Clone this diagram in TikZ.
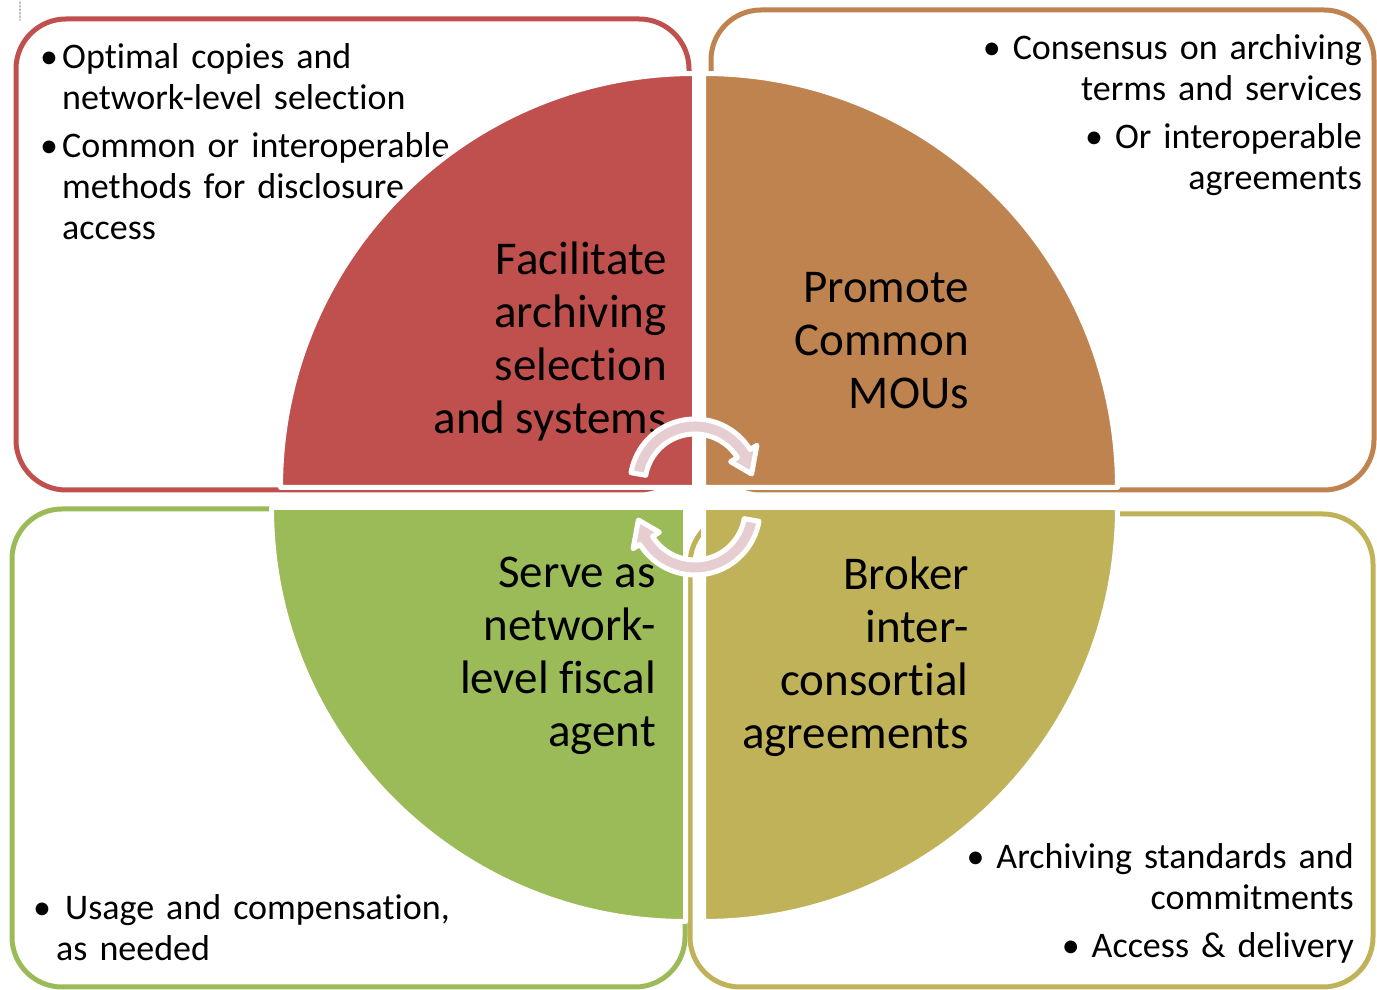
\documentclass[tikz,border=0pt]{standalone}
\usepackage{fontspec}
\setmainfont{Carlito}[Ligatures=NoCommon]
\usetikzlibrary{positioning}
\definecolor{redq}{HTML}{C0504D}
\definecolor{brownq}{HTML}{BF8350}
\definecolor{greenq}{HTML}{9BBB59}
\definecolor{oliveq}{HTML}{BFB259}
\definecolor{cycpink}{RGB}{230,205,209}
\newcommand{\bitem}[1][22pt]{\leavevmode\hangindent=#1\hangafter=1\makebox[22pt][l]{\textbullet}}

\begin{document}
\begin{tikzpicture}[x=1pt,y=1pt,line cap=round,line join=round,
box/.style={line width=5pt,rounded corners=50pt},
wedge/.style={draw=white,line width=5pt},
cyc/.style={fill=cycpink,draw=white,line width=5pt},
bigtxt/.style={font=\fontsize{47}{53}\selectfont,align=right,inner sep=0pt},
pts/.style={font=\fontsize{36}{41}\selectfont,inner sep=0pt,text width=640pt}]
\useasboundingbox (0,0) rectangle (1377,990);
\draw[gray!50,dotted,line width=1.5pt] (20,988) -- (20,970);
% 4 khung bo tron
\draw[box,redq] (16,500) rectangle (689,971);
\draw[box,brownq] (711,500) rectangle (1374,980);
\draw[box,greenq] (12,3) rectangle (685,481);
\draw[box,oliveq] (690,3) rectangle (1373,476);
% cac y trong khung
\node[pts,anchor=north west,align=left] (tlnote) at (40,947) {\setlength{\parskip}{7pt}%
\bitem Optimal copies and\newline network-level selection\par
\bitem Common or interoperable\newline methods for disclosure and\newline access\par};
\node[pts,anchor=north east,align=right] (trnote) at (1362,956) {\setlength{\parskip}{7pt}%
\textbullet\ Consensus on archiving\\terms and services\par
\textbullet\ Or interoperable\\agreements};
\node[pts,anchor=north west,align=left] (blnote) at (33,96) {\bitem[23pt]\hspace{10pt}Usage and compensation,\newline as needed\par};
\node[pts,anchor=north east,align=right] (brnote) at (1354,147) {\setlength{\parskip}{7pt}%
\textbullet\ Archiving standards and\\commitments\par
\textbullet\ Access \& delivery};
% 4 goc phan tu
\filldraw[wedge,fill=redq] (694.5,502.5) -- (280.5,502.5) arc (180:90:414) -- cycle;
\filldraw[wedge,fill=brownq] (703.5,502.5) -- (703.5,916.5) arc (90:0:414) -- cycle;
\filldraw[wedge,fill=greenq] (685.5,482.5) -- (271.5,482.5) arc (180:270:414) -- cycle;
\filldraw[wedge,fill=oliveq] (703.5,482.5) -- (703.5,68.5) arc (270:360:414) -- cycle;
\node[bigtxt,anchor=north east] (facil) at (667,748) {Facilitate\\archiving\\selection\\and systems};
\node[bigtxt,anchor=north east] (promo) at (969,718) {Promote\\Common\\MOUs};
\node[bigtxt,anchor=north east] (serve) at (656,433) {Serve as\\network-\\level fiscal\\agent};
\node[bigtxt,anchor=north east] (broker) at (969,433) {Broker\\inter-\\consortial\\agreements};
% mui ten vong o giua
\begin{scope}[shift={(695,506)}]
\filldraw[cyc] (170:65) arc (170:32:65) -- (32:73) -- (10:57.5) -- (32:42) -- (32:50) arc (32:170:50) -- cycle;
\end{scope}
\begin{scope}[shift={(695,480)},rotate=180]
\filldraw[cyc] (170:65) arc (170:32:65) -- (32:73) -- (10:57.5) -- (32:42) -- (32:50) arc (32:170:50) -- cycle;
\end{scope}
\end{tikzpicture}
\end{document}
